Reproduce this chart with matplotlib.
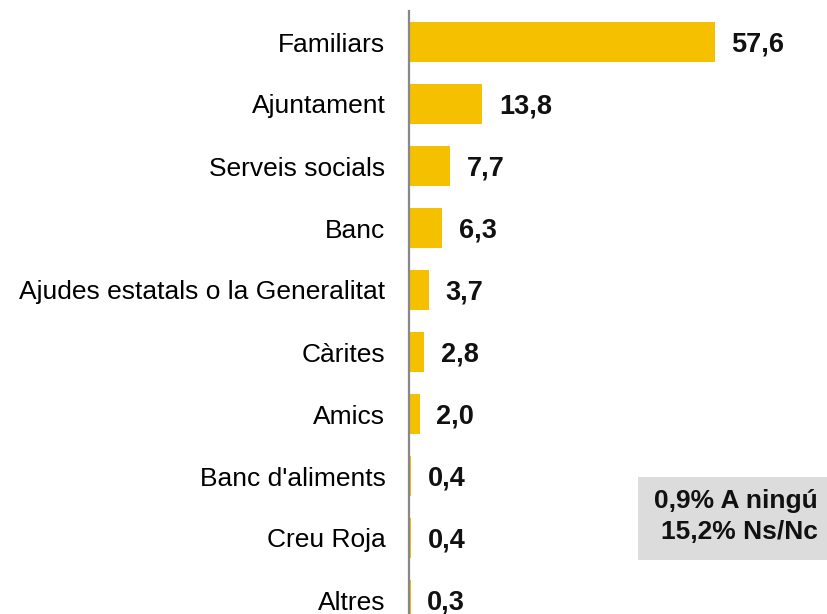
import matplotlib
matplotlib.use("Agg")
import matplotlib.pyplot as plt
from matplotlib.patches import Rectangle

categories = ["Familiars", "Ajuntament", "Serveis socials", "Banc",
              "Ajudes estatals o la Generalitat", "Càrites", "Amics",
              "Banc d'aliments", "Creu Roja", "Altres"]
values = [57.6, 13.8, 7.7, 6.3, 3.7, 2.8, 2.0, 0.4, 0.4, 0.3]
value_labels = ["57,6", "13,8", "7,7", "6,3", "3,7", "2,8", "2,0", "0,4", "0,4", "0,3"]
note_lines = ["0,9% A ningú", "15,2% Ns/Nc"]

plt.rcParams['font.family'] = ['Liberation Sans', 'DejaVu Sans']

W, H = 827, 614
fig = plt.figure(figsize=(W / 100, H / 100), dpi=100)
left_px, right_px, top_px, bottom_px = 409, 827, 11, 631
ax = fig.add_axes([left_px / W, (H - bottom_px) / H,
                   (right_px - left_px) / W, (bottom_px - top_px) / H])

ypos = list(range(len(categories)))
ax.barh(ypos, values, height=0.66, color="#F5C000", edgecolor="none")
ax.set_ylim(len(categories) - 0.5, -0.5)
ax.set_xlim(0, (right_px - left_px) / 5.31)

ax.set_yticks(ypos)
ax.set_yticklabels(categories, fontsize=19, color="#000000")
ax.tick_params(axis="y", length=0, pad=17)
ax.set_xticks([])
for s in ["top", "right", "bottom"]:
    ax.spines[s].set_visible(False)
ax.spines["left"].set_color("#888888")
ax.spines["left"].set_linewidth(1.6)

for y, v, lab in zip(ypos, values, value_labels):
    ax.annotate(lab, xy=(v, y), xytext=(12, -2), textcoords="offset points",
                ha="left", va="center", fontsize=19.5, fontweight="bold",
                color="#111111")

# note box
bx0, by0, bx1, by1 = 638, 477, 827, 560
fig.patches.append(Rectangle((bx0 / W, (H - by1) / H), (bx1 - bx0) / W,
                             (by1 - by0) / H, transform=fig.transFigure,
                             facecolor="#DCDCDC", edgecolor="none", zorder=0))
fig.text(818 / W, (H - 501) / H, note_lines[0], ha="right", va="center",
         fontsize=19, fontweight="bold", color="#111111")
fig.text(818 / W, (H - 532) / H, note_lines[1], ha="right", va="center",
         fontsize=19, fontweight="bold", color="#111111")

fig.savefig("out.png", dpi=100)
